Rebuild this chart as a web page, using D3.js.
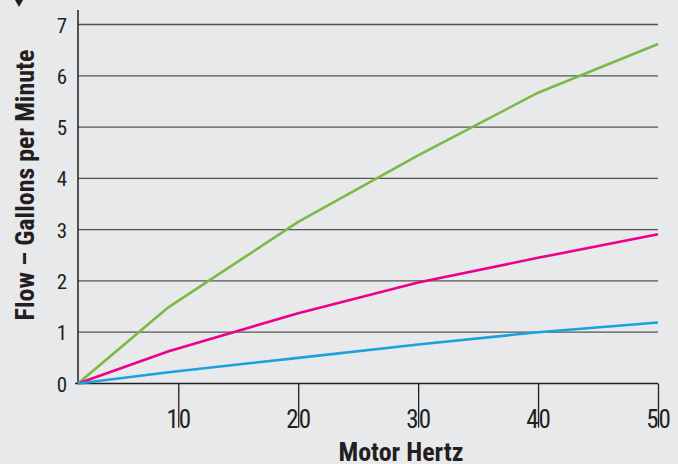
<!DOCTYPE html>
<html>
<head>
<meta charset="utf-8">
<script src="https://cdn.jsdelivr.net/npm/d3@7"></script>
<style>
  html, body { margin: 0; padding: 0; background: #e8e9eb; }
  svg { display: block; }
  text { font-family: "Liberation Sans Narrow", "Roboto Condensed", "Arial Narrow", sans-serif; fill: #231f20; }
</style>
</head>
<body>
<div id="chart"></div>
<script>
// Motor hertz sampled along each curve
const hertz = [1.64, 9.2, 20, 30, 40, 50];
// flow, gallons per minute
const flowGreen = [0, 1.49, 3.15, 4.45, 5.67, 6.62];
const flowPink  = [0, 0.63, 1.37, 1.97, 2.45, 2.91];
const flowBlue  = [0, 0.22, 0.5, 0.76, 1.0, 1.19];
const xTicks = [10, 20, 30, 40, 50];
const yTicks = [0, 1, 2, 3, 4, 5, 6, 7];

const series = [
  { name: "green", values: flowGreen, color: "#7db843" },
  { name: "pink", values: flowPink, color: "#ec008c" },
  { name: "blue", values: flowBlue, color: "#1ba1db" }
];

const W = 678, H = 464;
const margin = { left: 78, right: 20, top: 24.5, bottom: 80.5 };

const svg = d3.select("#chart").append("svg")
  .attr("width", W)
  .attr("height", H);

svg.append("rect").attr("width", W).attr("height", H).attr("fill", "#e8e9eb");

// bit of a cropped arrow in the corner
svg.append("path")
  .attr("d", "M15,0 L23,0 L19,7 Z")
  .attr("fill", "#231f20");

const x = d3.scaleLinear()
  .domain([hertz[0], 50])
  .range([margin.left, W - margin.right]);

const y = d3.scaleLinear()
  .domain([0, 7])
  .range([H - margin.bottom, margin.top]);

// gridlines
svg.append("g")
  .selectAll("line")
  .data(yTicks.filter(d => d > 0))
  .enter().append("line")
    .attr("x1", x.range()[0])
    .attr("x2", x.range()[1])
    .attr("y1", d => y(d))
    .attr("y2", d => y(d))
    .attr("stroke", "#555")
    .attr("stroke-width", 1.3);

// y axis
const yAxis = svg.append("g")
  .attr("transform", "translate(" + margin.left + ",0)")
  .call(d3.axisLeft(y).tickValues(yTicks).tickSize(0).tickPadding(11).tickFormat(d3.format("d")));
yAxis.select(".domain").remove();
yAxis.selectAll("text")
  .style("font-size", "21px")
  .attr("dy", "0.36em");

svg.append("line")
  .attr("x1", margin.left).attr("x2", margin.left)
  .attr("y1", 10).attr("y2", y(0))
  .attr("stroke", "#231f20").attr("stroke-width", 1.5);

// x axis
const xAxis = svg.append("g")
  .attr("transform", "translate(0," + y(0) + ")")
  .call(d3.axisBottom(x).tickValues(xTicks).tickSize(44).tickPadding(-44).tickFormat(d3.format("d")));
xAxis.select(".domain").remove();
xAxis.selectAll(".tick line").attr("stroke", "#231f20").attr("stroke-width", 1.3);
xAxis.selectAll("text")
  .style("font-size", "25px")
  .attr("y", 44)
  .attr("dy", 0);

svg.append("line")
  .attr("x1", margin.left - 3).attr("x2", x.range()[1])
  .attr("y1", y(0)).attr("y2", y(0))
  .attr("stroke", "#231f20").attr("stroke-width", 1.6);

// curves
const line = d3.line()
  .x((d, i) => x(hertz[i]))
  .y(d => y(d));

svg.append("g")
  .selectAll("path")
  .data(series)
  .enter().append("path")
    .attr("d", d => line(d.values))
    .attr("fill", "none")
    .attr("stroke", d => d.color)
    .attr("stroke-width", 2.6)
    .attr("stroke-linejoin", "round");

// axis titles
svg.append("text")
  .attr("transform", "translate(34,185) rotate(-90)")
  .attr("text-anchor", "middle")
  .style("font-size", "26px")
  .style("font-weight", "bold")
  .text("Flow – Gallons per Minute");

svg.append("text")
  .attr("x", 401)
  .attr("y", 461)
  .attr("text-anchor", "middle")
  .style("font-size", "26px")
  .style("font-weight", "bold")
  .text("Motor Hertz");
</script>
</body>
</html>
